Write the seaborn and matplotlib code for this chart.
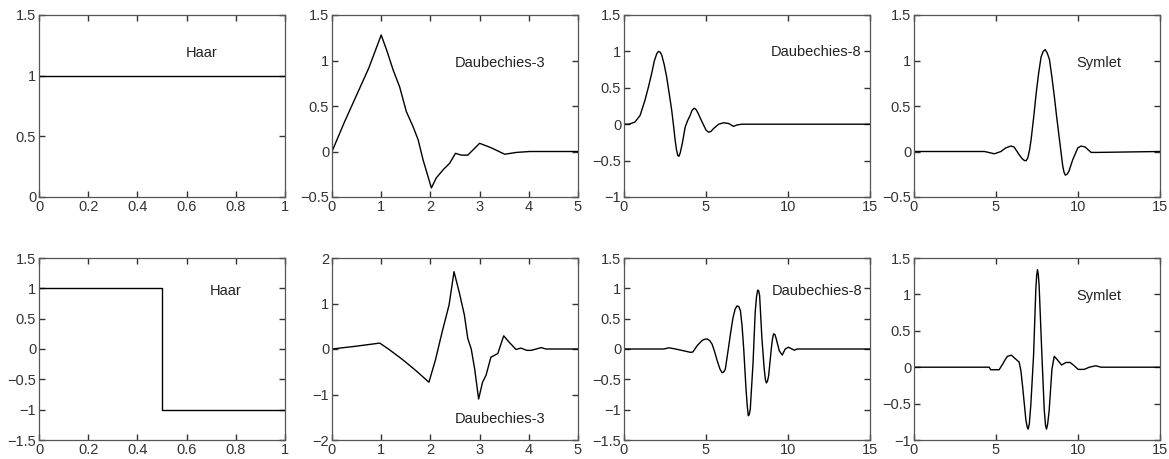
import numpy as np
import pandas as pd
import matplotlib
matplotlib.use("Agg")
import matplotlib.pyplot as plt
import seaborn as sns

# values
haar_phi_x = [0, 1]
haar_phi_y = [1, 1]

db3_phi_x = [0, 0.25, 0.5, 0.75, 1.0, 1.12, 1.24, 1.375, 1.51, 1.65, 1.75, 1.85, 2.02,
             2.12, 2.26, 2.39, 2.51, 2.63, 2.76, 3.0, 3.24, 3.51, 3.75, 4.02, 4.5, 5.0]
db3_phi_y = [0, 0.32, 0.62, 0.92, 1.28, 1.1, 0.9, 0.71, 0.44, 0.27, 0.13, -0.09, -0.40,
             -0.29, -0.2, -0.13, -0.02, -0.04, -0.04, 0.09, 0.04, -0.03, -0.01, 0.0, 0.0, 0.0]

db8_phi_x = [0, 0.3, 0.67, 0.98, 1.28, 1.5, 1.69, 1.85, 2.0, 2.1, 2.2, 2.3, 2.45, 2.6, 2.75,
             2.91, 3.02, 3.12, 3.2, 3.28, 3.35, 3.42, 3.55, 3.73, 3.88, 4.03, 4.15, 4.28, 4.4,
             4.54, 4.7, 4.85, 5.0, 5.15, 5.3, 5.46, 5.77, 6.08, 6.38, 6.68, 6.89, 7.19, 15]
db8_phi_y = [0, 0.0, 0.03, 0.12, 0.33, 0.52, 0.70, 0.87, 0.97, 1.0, 0.99, 0.95, 0.82, 0.65, 0.43,
             0.19, -0.02, -0.22, -0.35, -0.43, -0.44, -0.40, -0.27, -0.04, 0.05, 0.12, 0.19, 0.22, 0.20,
             0.14, 0.06, -0.01, -0.08, -0.11, -0.10, -0.06, 0.0, 0.02, 0.01, -0.03, -0.01, 0.0, 0.0]

sym_phi_x = [0, 4.3, 4.9, 5.3, 5.6, 5.9, 6.1, 6.43, 6.6, 6.74, 6.84, 6.94, 7.05, 7.14, 7.3, 7.45,
             7.6, 7.75, 7.88, 8.0, 8.13, 8.26, 8.4, 8.56, 8.7, 8.87, 9.07, 9.15, 9.23, 9.33,
             9.44, 9.68, 9.99, 10.19, 10.43, 10.8, 11.2, 15]
sym_phi_y = [0, 0.0, -0.025, 0.0, 0.04, 0.06, 0.05, -0.04, -0.08, -0.10, -0.10, -0.07, 0.02, 0.13, 0.38, 0.64,
             0.86, 1.04, 1.10, 1.12, 1.08, 1.01, 0.83, 0.60, 0.38, 0.13, -0.16, -0.23, -0.26, -0.25,
             -0.22, -0.09, 0.04, 0.06, 0.05, -0.01, -0.01, 0.0]

haar_psi_x = [0, 0.5, 0.5, 1]
haar_psi_y = [1, 1, -1, -1]

db3_psi_x = [0, 0.48, 0.97, 1.16, 1.37, 1.5, 1.7, 1.97, 2.1, 2.24, 2.38, 2.48, 2.59, 2.69,
             2.76, 2.83, 2.9, 2.98, 3.06, 3.13, 3.23, 3.3, 3.37, 3.49, 3.6, 3.74, 3.84, 3.96,
             4.05, 4.25, 4.35, 5.0]
db3_psi_y = [0, 0.06, 0.13, -0.01, -0.18, -0.29, -0.47, -0.73, -0.25, 0.38, 0.97, 1.70, 1.23, 0.75,
             0.23, 0.0, -0.44, -1.1, -0.73, -0.58, -0.18, -0.14, -0.1, 0.29, 0.15, -0.01, 0.02, -0.03,
             -0.03, 0.03, 0.0, 0.0]

db8_psi_x = [0, 2.43, 2.74, 3.14, 3.65, 4.05, 4.2, 4.46, 4.76, 4.92, 5.07, 5.22, 5.37, 5.52, 5.68,
             5.85, 5.98, 6.08, 6.18, 6.39, 6.52, 6.65, 6.78, 6.89, 7.0, 7.1, 7.2, 7.3, 7.44, 7.52,
             7.58, 7.64, 7.7, 7.87, 8.0, 8.08, 8.15, 8.21, 8.27, 8.41, 8.55, 8.62, 8.68, 8.75,
             8.82, 8.98, 9.05, 9.12, 9.2, 9.28, 9.47, 9.65, 9.83, 10.03, 10.24, 10.4, 10.54, 15]
db8_psi_y = [0, 0.0, 0.02, 0.0, -0.03, -0.055, -0.05, 0.055, 0.14, 0.16, 0.165, 0.14, 0.08, -0.04, -0.19,
             -0.33, -0.39, -0.38, -0.33, 0.055, 0.30, 0.52, 0.66, 0.71, 0.70, 0.63, 0.38, 0.0, -0.66, -0.95,
             -1.1, -1.08, -0.99, -0.22, 0.61, 0.86, 0.97, 0.96, 0.88, 0.17, -0.33, -0.50, -0.56, -0.53,
             -0.44, 0.0, 0.16, 0.25, 0.24, 0.17, -0.03, -0.1, 0.0, 0.03, 0.0, -0.02, 0.0, 0.0]

sym_psi_x = [0, 4.58, 4.68, 5.19, 5.4, 5.55, 5.7, 5.94, 6.21, 6.41, 6.52, 6.62, 6.82, 6.9, 6.96, 7.03,
             7.12, 7.29, 7.43, 7.48, 7.53, 7.58, 7.63, 7.8, 7.94, 8.02, 8.08, 8.15, 8.24, 8.41, 8.55,
             8.75, 9.0, 9.26, 9.52, 9.77, 10.01, 10.38, 10.69, 11.09, 11.4, 15]
sym_psi_y = [0, 0.0, -0.035, -0.035, 0.04, 0.10, 0.15, 0.165, 0.11, 0.07, -0.05, -0.26, -0.72, -0.82, -0.85, -0.78,
             -0.53, 0.16, 1.08, 1.26, 1.34, 1.27, 1.12, 0.16, -0.58, -0.80, -0.85, -0.78, -0.6, -0.03, 0.15,
             0.10, 0.03, 0.065, 0.065, 0.02, -0.03, -0.03, 0.0, 0.02, 0.0, 0.0]

panels = [
    # x, y, xlim, xticks, ylim, yticks, label, label pos
    (haar_phi_x, haar_phi_y, (0, 1), [0, 0.2, 0.4, 0.6, 0.8, 1], (0, 1.5), [0, 0.5, 1, 1.5], "Haar", (0.66, 1.19)),
    (db3_phi_x, db3_phi_y, (0, 5), [0, 1, 2, 3, 4, 5], (-0.5, 1.5), [-0.5, 0, 0.5, 1, 1.5], "Daubechies-3", (3.41, 0.97)),
    (db8_phi_x, db8_phi_y, (0, 15), [0, 5, 10, 15], (-1, 1.5), [-1, -0.5, 0, 0.5, 1, 1.5], "Daubechies-8", (11.7, 0.99)),
    (sym_phi_x, sym_phi_y, (0, 15), [0, 5, 10, 15], (-0.5, 1.5), [-0.5, 0, 0.5, 1, 1.5], "Symlet", (11.3, 0.97)),
    (haar_psi_x, haar_psi_y, (0, 1), [0, 0.2, 0.4, 0.6, 0.8, 1], (-1.5, 1.5), [-1.5, -1, -0.5, 0, 0.5, 1, 1.5], "Haar", (0.76, 0.96)),
    (db3_psi_x, db3_psi_y, (0, 5), [0, 1, 2, 3, 4, 5], (-2, 2), [-2, -1, 0, 1, 2], "Daubechies-3", (3.41, -1.54)),
    (db8_psi_x, db8_psi_y, (0, 15), [0, 5, 10, 15], (-1.5, 1.5), [-1.5, -1, -0.5, 0, 0.5, 1, 1.5], "Daubechies-8", (11.8, 0.96)),
    (sym_psi_x, sym_psi_y, (0, 15), [0, 5, 10, 15], (-1, 1.5), [-1, -0.5, 0, 0.5, 1, 1.5], "Symlet", (11.3, 0.98)),
]

sns.set_style("ticks")
plt.rcParams['font.family'] = ['Liberation Sans', 'DejaVu Sans']

fig = plt.figure(figsize=(11.69, 4.59), dpi=100)
lefts = [39, 332, 624, 914]
bottoms = [459 - 197, 459 - 440]
W, H = 1169, 459

def fmt(v):
    s = "%g" % v
    return s.replace("-", "\u2212")

for i, (x, y, xl, xt, yl, yt, label, pos) in enumerate(panels):
    row, col = divmod(i, 4)
    ax = fig.add_axes([lefts[col] / W, bottoms[row] / H, 246 / W, 182 / H])
    df = pd.DataFrame({"x": x, "y": y})
    sns.lineplot(data=df, x="x", y="y", ax=ax, sort=False, estimator=None,
                 color="black", linewidth=1.0)
    ax.set_xlim(xl)
    ax.set_ylim(yl)
    ax.set_xticks(xt)
    ax.set_yticks(yt)
    ax.set_xticklabels([fmt(v) for v in xt])
    ax.set_yticklabels([fmt(v) for v in yt])
    ax.set_xlabel("")
    ax.set_ylabel("")
    ax.tick_params(direction="in", top=True, right=True, length=4, width=1.0,
                   labelsize=10.5, pad=2, color="#333333", labelcolor="#333333")
    for sp in ax.spines.values():
        sp.set_visible(True)
        sp.set_color("#555555")
        sp.set_linewidth(0.9)
    ax.text(pos[0], pos[1], label, ha="center", va="center", fontsize=10.5, color="#222222")

fig.savefig("out.png", dpi=100)
